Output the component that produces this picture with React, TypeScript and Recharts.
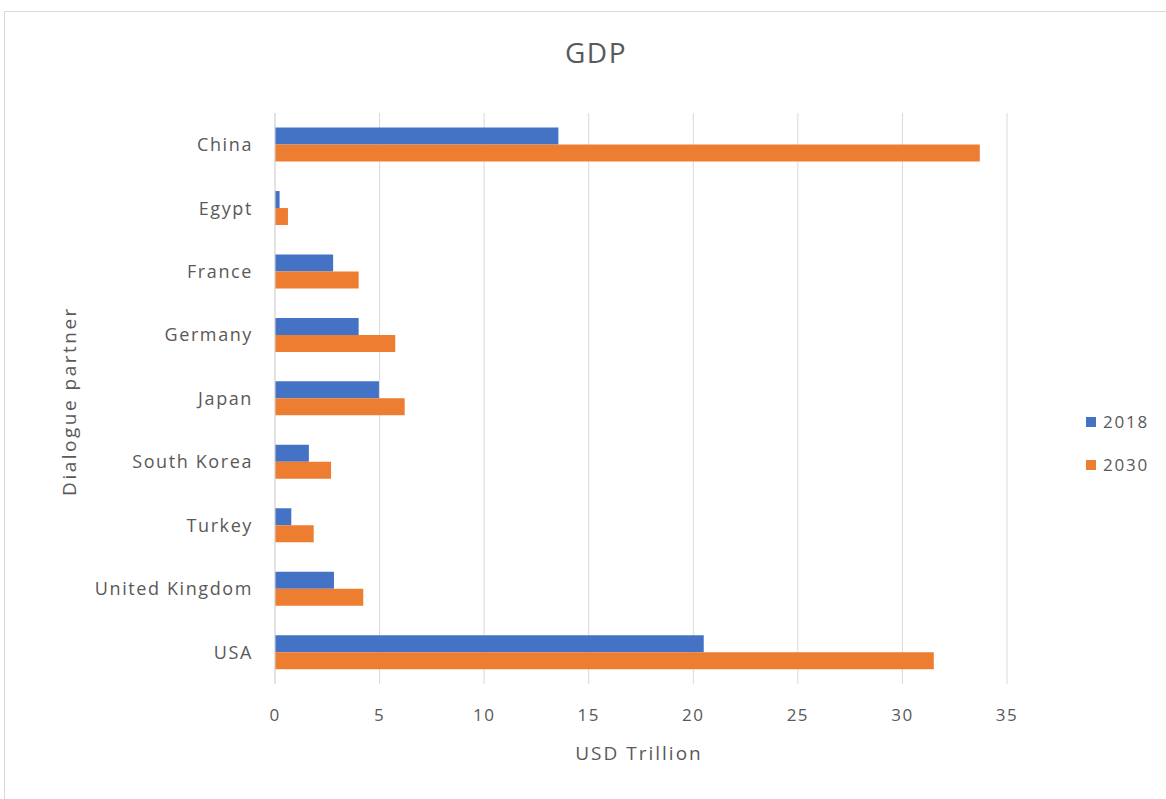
import React from 'react';
import { BarChart, Bar, XAxis, YAxis, CartesianGrid, Legend } from 'recharts';

const countries = ['China', 'Egypt', 'France', 'Germany', 'Japan', 'South Korea', 'Turkey', 'United Kingdom', 'USA'];
const gdp2018 = [13.55, 0.22, 2.78, 4.0, 4.97, 1.62, 0.78, 2.82, 20.5];
const gdp2030 = [33.7, 0.62, 4.0, 5.75, 6.2, 2.68, 1.85, 4.22, 31.5];
const xTicks = [0, 5, 10, 15, 20, 25, 30, 35];

const BLUE = '#4472C4';
const ORANGE = '#ED7D31';
const TEXT = '#595959';
const FONT = '"Open Sans", "Liberation Sans", sans-serif';

const data = countries.map((name, i) => ({ name, y2018: gdp2018[i], y2030: gdp2030[i] }));

function LegendBox({ payload }: any) {
  return (
    <div style={{ fontFamily: FONT, fontSize: 17, letterSpacing: 1.8, color: TEXT }}>
      {(payload || []).map((p: any) => (
        <div key={p.value} style={{ display: 'flex', alignItems: 'center', height: 43 }}>
          <span style={{ width: 10, height: 10, background: p.color, marginRight: 7 }} />
          {p.value}
        </div>
      ))}
    </div>
  );
}

export default function App() {
  return (
    <div style={{ position: 'absolute', left: 0, top: 0, width: 1166, height: 799, background: '#fff' }}>
      <div
        style={{
          position: 'absolute',
          left: 4,
          top: 11,
          width: 1170,
          height: 800,
          border: '1px solid #d9d9d9',
          boxSizing: 'border-box',
        }}
      />
      <BarChart
        width={1166}
        height={799}
        data={data}
        layout="vertical"
        margin={{ top: 113, right: 79, bottom: 85, left: 20 }}
        barCategoryGap="23%"
        barGap={0}
        style={{ position: 'absolute', left: 0, top: 0, fontFamily: FONT }}
      >
        <text x={596} y={56} textAnchor="middle" dominantBaseline="middle" fontSize={28} letterSpacing={1.5} fill={TEXT} fontFamily={FONT}>
          GDP
        </text>
        <text
          x={71}
          y={401}
          textAnchor="middle"
          dominantBaseline="middle"
          fontSize={19}
          letterSpacing={2.5}
          fill={TEXT}
          fontFamily={FONT}
          transform="rotate(-90 71 401)"
        >
          Dialogue partner
        </text>
        <text x={639} y={755} textAnchor="middle" dominantBaseline="middle" fontSize={19} letterSpacing={2} fill={TEXT} fontFamily={FONT}>
          USD Trillion
        </text>
        <CartesianGrid horizontal={false} stroke="#d9d9d9" />
        <XAxis
          type="number"
          domain={[0, 35]}
          ticks={xTicks}
          height={30}
          axisLine={false}
          tickLine={false}
          tickSize={0}
          tickMargin={25}
          tick={{ fontSize: 17, fill: TEXT, fontFamily: FONT, letterSpacing: 1.5 }}
        />
        <YAxis
          type="category"
          dataKey="name"
          width={255}
          axisLine={{ stroke: '#d9d9d9' }}
          tickLine={false}
          tickSize={0}
          tickMargin={22}
          interval={0}
          tick={{ fontSize: 18, fill: TEXT, fontFamily: FONT, letterSpacing: 1.6 }}
        />
        <Legend
          layout="vertical"
          align="right"
          verticalAlign="middle"
          content={<LegendBox />}
          wrapperStyle={{ left: 1086, top: 400, width: 80 }}
        />
        <Bar dataKey="y2018" name="2018" fill={BLUE} isAnimationActive={false} />
        <Bar dataKey="y2030" name="2030" fill={ORANGE} isAnimationActive={false} />
      </BarChart>
    </div>
  );
}
